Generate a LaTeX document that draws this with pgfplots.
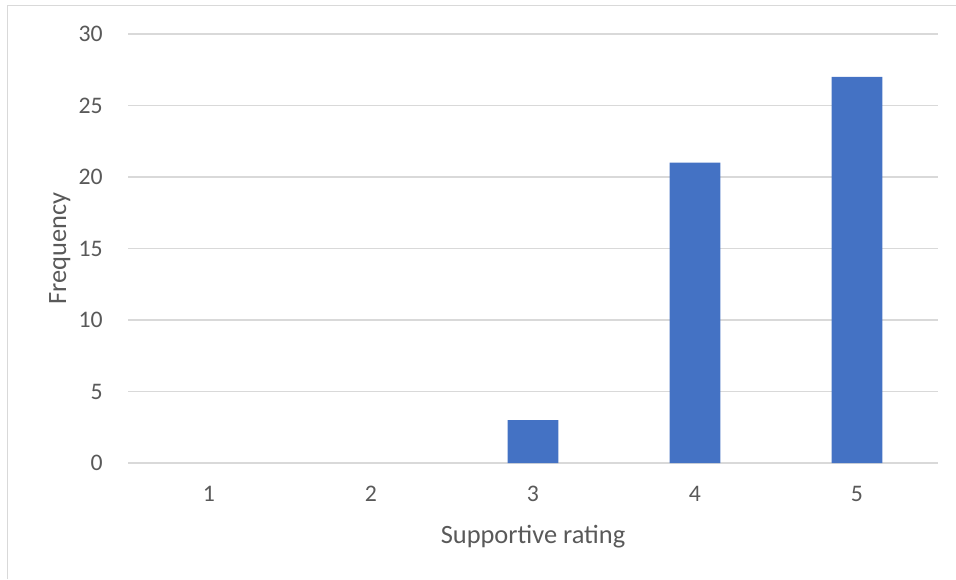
\documentclass[border=0pt]{standalone}
\usepackage{pgfplots}
\pgfplotsset{compat=1.18}
\usepackage{fontspec}
\setmainfont{Carlito}
\definecolor{barblue}{HTML}{4472C4}
\definecolor{txtgray}{HTML}{595959}
\definecolor{gridgray}{HTML}{D9D9D9}
\begin{document}
\begin{tikzpicture}
% chart frame (left and top edges)
\useasboundingbox (0,0) rectangle (717pt,434.25pt);
\draw[gridgray, line width=1pt] (5.625pt,0pt) -- (5.625pt,430.1pt) -- (717pt,430.1pt);
\begin{axis}[
  at={(96pt,87pt)}, anchor=south west,
  scale only axis,
  width=607.5pt, height=321.75pt,
  xmin=0.5, xmax=5.5, ymin=0, ymax=30,
  xtick={1,2,3,4,5},
  ytick={0,5,...,30},
  axis line style={draw=none},
  major tick length=0pt,
  ymajorgrids,
  grid style={gridgray, line width=0.9pt},
  /pgf/number format/assume math mode=true,
  ticklabel style={text=txtgray, font=\fontsize{17.8}{20}\selectfont},
  yticklabel style={anchor=east, inner sep=0pt, xshift=-18.75pt},
  xticklabel style={anchor=north, inner sep=0pt, yshift=-17.25pt},
  label style={text=txtgray, font=\fontsize{19.8}{22}\selectfont, inner sep=0pt},
  xlabel={Supportive rating},
  ylabel={Frequency},
  xlabel style={at={(axis description cs:0.5,0)}, anchor=base, yshift=-60pt},
  ylabel style={at={(axis description cs:-0.0765,0.5)}, anchor=base},
  ybar, bar width=38pt,
]
% empty categories (count 0) leave no sliver on the baseline
\addplot[fill=barblue, draw=none, unbounded coords=discard,
  y filter/.expression={y==0 ? nan : y}]
  coordinates {(1,0) (2,0) (3,3) (4,21) (5,27)};
\end{axis}
\end{tikzpicture}
\end{document}
